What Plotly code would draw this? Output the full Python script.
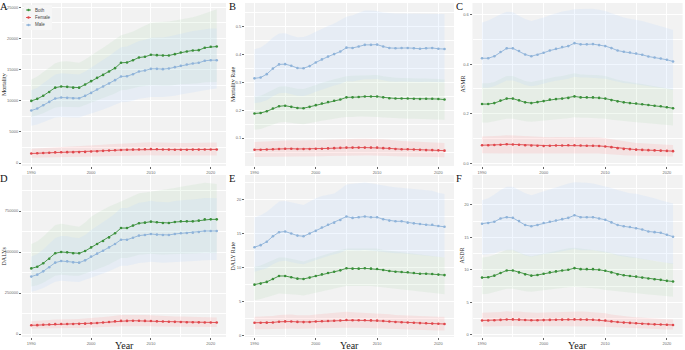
import plotly.graph_objects as go

years = list(range(1990, 2022))
x_ticks = [1990, 2000, 2010, 2020]
series_names = ["Both", "Female", "Male"]

# ---------------- Panel A: Mortality (deaths) ----------------
A_both = [9970,10300,10800,11400,12100,12280,12230,12100,12100,12600,13140,13670,14150,14690,15230,16090,16140,16510,16940,17050,17370,17320,17260,17260,17480,17750,17910,18070,18120,18500,18660,18710]
A_both_hi = [13400,13900,14600,15300,16000,16300,16350,16200,16100,16600,17300,17900,18500,19200,19900,20500,20800,21100,21600,22100,22500,22600,22650,22700,22900,23050,23200,23400,23700,24000,24400,24700]
A_both_lo = [7400,7650,8000,8400,8900,9050,9000,8950,8950,9300,9700,10050,10400,10800,11150,11700,11750,12000,12250,12350,12500,12450,12400,12400,12500,12650,12700,12800,12800,12950,13000,13000]
A_male = [8420,8740,9280,9810,10350,10510,10460,10400,10400,10780,11260,11800,12280,12760,13300,13890,13940,14260,14690,14850,15120,15120,15070,15170,15390,15600,15820,15980,16090,16410,16510,16510]
A_male_hi = [11700,12100,12800,13500,14200,14400,14350,14250,14200,14700,15300,16000,16600,17200,17900,18600,18700,19100,19600,19800,20100,20150,20150,20300,20550,20800,21000,21200,21300,21500,21600,21600]
A_male_lo = [6000,6200,6550,6900,7300,7400,7350,7300,7300,7550,7900,8250,8600,8950,9300,9750,9800,10000,10300,10450,10600,10600,10600,10650,10800,11000,11200,11400,11550,11700,11850,11950]
A_fem = [1530,1560,1600,1640,1700,1730,1740,1740,1750,1780,1840,1900,1950,2000,2040,2100,2120,2150,2180,2200,2230,2200,2170,2150,2140,2140,2140,2150,2150,2160,2170,2180]
A_fem_hi = [2300,2350,2400,2450,2550,2600,2620,2620,2630,2680,2770,2860,2940,3010,3070,3160,3190,3230,3280,3310,3350,3310,3260,3230,3220,3220,3220,3230,3230,3250,3260,3280]
A_fem_lo = [850,860,880,900,940,950,960,960,960,980,1010,1050,1070,1100,1120,1160,1170,1180,1200,1210,1230,1210,1190,1180,1180,1180,1180,1180,1180,1190,1190,1200]

# ---------------- Panel B: Mortality Rate ----------------
B_male = [0.314,0.317,0.329,0.349,0.364,0.365,0.359,0.351,0.350,0.358,0.371,0.382,0.392,0.401,0.410,0.424,0.423,0.428,0.434,0.434,0.435,0.428,0.423,0.422,0.423,0.423,0.422,0.420,0.422,0.423,0.420,0.419]
B_male_hi = [0.418,0.425,0.440,0.460,0.475,0.476,0.468,0.461,0.462,0.470,0.481,0.492,0.502,0.511,0.522,0.535,0.540,0.548,0.557,0.557,0.555,0.550,0.547,0.546,0.546,0.546,0.545,0.545,0.545,0.546,0.545,0.545]
B_male_lo = [0.225,0.228,0.236,0.250,0.261,0.262,0.258,0.252,0.251,0.257,0.266,0.274,0.281,0.288,0.294,0.304,0.303,0.307,0.311,0.311,0.312,0.307,0.303,0.302,0.303,0.303,0.302,0.301,0.302,0.303,0.301,0.300]
B_both = [0.188,0.190,0.196,0.206,0.214,0.216,0.212,0.208,0.207,0.212,0.218,0.224,0.229,0.234,0.238,0.246,0.246,0.247,0.249,0.249,0.249,0.246,0.243,0.242,0.242,0.242,0.241,0.240,0.241,0.241,0.240,0.238]
B_both_hi = [0.248,0.252,0.262,0.274,0.284,0.286,0.282,0.277,0.276,0.282,0.290,0.298,0.305,0.311,0.316,0.322,0.323,0.324,0.326,0.326,0.326,0.322,0.318,0.316,0.315,0.315,0.314,0.313,0.313,0.313,0.312,0.310]
B_both_lo = [0.130,0.133,0.140,0.149,0.156,0.158,0.155,0.151,0.150,0.154,0.158,0.162,0.166,0.170,0.173,0.176,0.176,0.177,0.177,0.177,0.176,0.174,0.171,0.170,0.170,0.169,0.169,0.168,0.168,0.168,0.167,0.166]
B_fem = [0.058,0.058,0.059,0.060,0.061,0.062,0.062,0.061,0.061,0.061,0.062,0.062,0.063,0.064,0.065,0.066,0.066,0.066,0.066,0.066,0.066,0.064,0.063,0.061,0.060,0.060,0.059,0.058,0.057,0.057,0.056,0.055]
B_fem_hi = [0.086,0.087,0.088,0.089,0.091,0.092,0.092,0.091,0.091,0.091,0.092,0.093,0.094,0.095,0.096,0.098,0.098,0.098,0.098,0.098,0.098,0.096,0.094,0.091,0.090,0.089,0.088,0.087,0.086,0.085,0.084,0.082]
B_fem_lo = [0.032,0.032,0.033,0.033,0.034,0.034,0.034,0.034,0.034,0.034,0.035,0.035,0.036,0.036,0.037,0.038,0.038,0.038,0.038,0.038,0.038,0.037,0.036,0.035,0.034,0.034,0.033,0.033,0.032,0.032,0.032,0.031]

# ---------------- Panel C: ASMR ----------------
C_male = [0.424,0.424,0.432,0.449,0.464,0.464,0.453,0.439,0.432,0.438,0.446,0.455,0.462,0.469,0.473,0.485,0.480,0.480,0.481,0.477,0.473,0.465,0.455,0.450,0.447,0.443,0.438,0.431,0.427,0.423,0.418,0.411]
C_male_hi = [0.568,0.576,0.588,0.602,0.612,0.610,0.596,0.582,0.574,0.580,0.588,0.598,0.606,0.613,0.617,0.622,0.623,0.624,0.624,0.620,0.615,0.606,0.596,0.588,0.583,0.579,0.574,0.567,0.561,0.554,0.546,0.538]
C_male_lo = [0.305,0.305,0.311,0.323,0.334,0.334,0.326,0.316,0.311,0.315,0.321,0.328,0.333,0.338,0.341,0.349,0.346,0.346,0.346,0.343,0.341,0.335,0.328,0.324,0.322,0.319,0.315,0.310,0.307,0.305,0.301,0.296]
C_both = [0.239,0.239,0.243,0.253,0.261,0.261,0.254,0.246,0.243,0.247,0.251,0.257,0.259,0.261,0.264,0.270,0.266,0.266,0.266,0.264,0.261,0.255,0.250,0.246,0.243,0.241,0.238,0.235,0.232,0.230,0.226,0.222]
C_both_hi = [0.323,0.323,0.328,0.341,0.352,0.352,0.343,0.332,0.328,0.333,0.339,0.346,0.349,0.352,0.356,0.363,0.358,0.358,0.358,0.355,0.352,0.344,0.337,0.332,0.328,0.325,0.321,0.317,0.313,0.310,0.305,0.299]
C_both_lo = [0.165,0.165,0.168,0.175,0.180,0.180,0.175,0.170,0.168,0.170,0.173,0.177,0.179,0.180,0.182,0.186,0.184,0.184,0.184,0.182,0.180,0.176,0.172,0.170,0.168,0.166,0.164,0.162,0.160,0.158,0.155,0.152]
C_fem = [0.073,0.073,0.074,0.075,0.077,0.076,0.075,0.073,0.072,0.071,0.070,0.071,0.072,0.072,0.073,0.073,0.072,0.071,0.071,0.070,0.068,0.065,0.061,0.058,0.057,0.055,0.054,0.053,0.052,0.051,0.050,0.049]
C_fem_hi = [0.108,0.108,0.109,0.111,0.113,0.112,0.111,0.108,0.107,0.105,0.104,0.105,0.106,0.106,0.107,0.107,0.106,0.105,0.105,0.104,0.101,0.097,0.091,0.087,0.085,0.082,0.081,0.079,0.078,0.076,0.075,0.074]
C_fem_lo = [0.040,0.040,0.041,0.041,0.042,0.042,0.041,0.040,0.040,0.039,0.039,0.039,0.040,0.040,0.040,0.040,0.040,0.039,0.039,0.039,0.038,0.036,0.034,0.032,0.031,0.030,0.030,0.029,0.029,0.028,0.028,0.027]

# ---------------- Panel D: DALYs ----------------
D_both = [400000,410000,431000,459000,492000,500000,498000,492000,492000,506000,528000,549000,567000,589000,614000,646000,646000,661000,675000,679000,685000,681000,677000,677000,683000,687000,687000,687000,691000,699000,699000,699000]
D_both_hi = [549000,565000,595000,632000,665000,672000,665000,657000,654000,680000,715000,738000,758000,778000,792000,807000,825000,842000,858000,863000,868000,872000,878000,884000,890000,898000,905000,912000,918000,923000,919000,915000]
D_both_lo = [290000,297000,312000,332000,355000,361000,359000,355000,355000,365000,380000,395000,408000,424000,441000,463000,463000,473000,483000,486000,490000,487000,484000,484000,487000,490000,490000,490000,492000,495000,494000,492000]
D_male = [350000,362000,382000,407000,435000,445000,443000,437000,435000,449000,472000,490000,508000,528000,549000,575000,575000,587000,600000,604000,610000,606000,604000,604000,610000,614000,616000,618000,622000,628000,628000,628000]
D_male_hi = [472000,488000,515000,548000,585000,598000,596000,588000,585000,603000,634000,658000,681000,707000,734000,768000,768000,783000,800000,805000,812000,807000,804000,804000,811000,816000,818000,820000,824000,830000,829000,827000]
D_male_lo = [258000,266000,280000,298000,318000,325000,323000,319000,317000,327000,343000,356000,369000,383000,398000,416000,416000,424000,433000,436000,440000,437000,435000,435000,439000,442000,443000,444000,446000,450000,451000,451000]
D_fem = [53000,54000,56000,58000,60000,61000,61000,61000,62000,63000,65000,67000,70000,73000,77000,80000,80000,81000,81000,80000,79000,77000,76000,75000,74000,73000,72000,72000,71000,70000,70000,70000]
D_fem_hi = [78000,79000,82000,85000,88000,90000,90000,90000,91000,93000,96000,99000,103000,107000,112000,116000,116000,117000,117000,116000,115000,112000,110000,109000,107000,106000,105000,104000,103000,102000,101000,101000]
D_fem_lo = [32000,33000,34000,35000,36000,37000,37000,37000,37000,38000,39000,40000,42000,44000,46000,48000,48000,48000,48000,48000,47000,46000,45000,45000,44000,44000,43000,43000,42000,42000,42000,42000]

# ---------------- Panel E: DALY Rate ----------------
E_male = [13.0,13.3,13.8,14.6,15.2,15.3,15.0,14.7,14.6,15.0,15.4,15.9,16.3,16.6,17.0,17.5,17.3,17.4,17.5,17.4,17.4,17.1,16.9,16.8,16.8,16.6,16.5,16.4,16.3,16.3,16.1,16.0]
E_male_hi = [17.4,17.7,18.2,19.0,19.7,19.8,19.6,19.3,19.2,19.7,20.2,20.5,20.7,20.9,21.5,22.2,22.3,22.4,22.5,22.4,22.2,22.0,21.9,21.8,21.7,21.6,21.5,21.4,21.3,21.3,21.0,20.8]
E_male_lo = [9.4,9.6,9.9,10.5,10.9,11.0,10.8,10.6,10.5,10.8,11.1,11.4,11.7,12.0,12.2,12.6,12.5,12.5,12.6,12.5,12.5,12.3,12.2,12.1,12.1,12.0,11.9,11.8,11.7,11.7,11.6,11.5]
E_both = [7.50,7.65,7.90,8.33,8.77,8.77,8.58,8.38,8.33,8.53,8.77,9.00,9.20,9.40,9.60,9.90,9.85,9.85,9.90,9.85,9.80,9.66,9.50,9.40,9.36,9.31,9.20,9.10,9.10,9.07,8.97,8.90]
E_both_hi = [10.1,10.3,10.7,11.1,11.5,11.5,11.3,11.0,10.9,11.2,11.5,11.8,12.1,12.4,12.6,12.8,12.8,12.8,12.9,12.8,12.8,12.6,12.5,12.4,12.3,12.2,12.1,12.0,11.9,11.8,11.6,11.5]
E_both_lo = [5.2,5.4,5.6,5.9,6.2,6.2,6.1,6.0,5.9,6.0,6.2,6.5,6.7,6.9,7.1,7.3,7.3,7.3,7.3,7.3,7.2,7.1,7.0,6.9,6.9,6.8,6.7,6.6,6.5,6.4,6.2,6.1]
E_fem = [1.90,1.90,1.92,1.95,2.05,2.10,2.08,2.03,2.00,2.02,2.08,2.12,2.16,2.20,2.24,2.30,2.28,2.26,2.26,2.25,2.22,2.15,2.08,2.02,1.98,1.95,1.90,1.85,1.82,1.78,1.75,1.72]
E_fem_hi = [2.80,2.80,2.85,2.90,3.05,3.10,3.10,3.00,2.95,3.00,3.10,3.20,3.30,3.35,3.40,3.50,3.45,3.40,3.40,3.40,3.35,3.25,3.15,3.05,3.00,2.95,2.90,2.85,2.85,2.80,2.80,2.80]
E_fem_lo = [0.93,0.93,0.95,0.97,1.02,1.05,1.04,1.01,1.00,1.01,1.04,1.07,1.10,1.13,1.16,1.20,1.18,1.16,1.15,1.14,1.12,1.07,1.02,0.98,0.95,0.92,0.88,0.85,0.82,0.79,0.77,0.75]

# ---------------- Panel F: ASDR ----------------
F_male = [17.1,17.2,17.4,17.9,18.1,18.0,17.5,16.9,16.7,16.9,17.2,17.4,17.6,17.8,18.0,18.4,18.1,18.1,18.1,17.9,17.7,17.3,16.9,16.7,16.6,16.4,16.2,15.9,15.8,15.7,15.4,15.1]
F_male_hi = [20.7,21.0,21.6,22.3,22.8,22.8,22.3,21.8,21.5,21.8,22.2,22.5,22.8,23.1,23.3,23.5,23.5,23.4,23.3,23.1,22.9,22.6,22.3,22.0,21.8,21.7,21.5,21.3,21.0,20.7,20.5,20.2]
F_male_lo = [12.3,12.4,12.5,12.9,13.0,13.0,12.6,12.2,12.0,12.2,12.4,12.5,12.7,12.8,13.0,13.2,13.0,13.0,13.0,12.9,12.7,12.5,12.2,12.0,11.9,11.8,11.7,11.5,11.4,11.3,11.1,10.9]
F_both = [8.80,8.85,9.10,9.50,9.90,9.90,9.60,9.30,9.10,9.20,9.40,9.60,9.75,9.90,10.00,10.25,10.10,10.10,10.10,10.00,9.85,9.60,9.30,9.15,9.05,8.95,8.80,8.65,8.55,8.45,8.30,8.20]
F_both_hi = [11.9,12.0,12.3,12.7,13.1,13.1,12.7,12.3,12.1,12.3,12.5,12.8,13.0,13.2,13.3,13.4,13.3,13.2,13.1,13.0,12.8,12.6,12.3,12.2,12.1,11.9,11.7,11.5,11.4,11.2,11.1,11.0]
F_both_lo = [6.25,6.30,6.50,6.80,7.10,7.10,6.90,6.70,6.60,6.70,6.80,7.00,7.10,7.20,7.30,7.40,7.30,7.30,7.20,7.10,6.90,6.80,6.60,6.50,6.45,6.40,6.30,6.20,6.10,6.00,5.90,5.85]
F_fem = [2.20,2.20,2.22,2.28,2.35,2.36,2.32,2.27,2.23,2.22,2.25,2.28,2.30,2.32,2.34,2.36,2.34,2.32,2.30,2.25,2.18,2.05,1.95,1.87,1.82,1.76,1.70,1.65,1.60,1.57,1.53,1.50]
F_fem_hi = [3.40,3.40,3.42,3.50,3.60,3.62,3.56,3.48,3.42,3.40,3.44,3.48,3.52,3.55,3.58,3.60,3.57,3.54,3.50,3.42,3.32,3.12,2.98,2.86,2.78,2.70,2.62,2.55,2.48,2.43,2.39,2.35]
F_fem_lo = [1.25,1.25,1.26,1.29,1.33,1.34,1.31,1.28,1.26,1.25,1.27,1.29,1.30,1.31,1.32,1.33,1.32,1.31,1.30,1.27,1.22,1.14,1.08,1.03,1.00,0.97,0.93,0.90,0.87,0.85,0.82,0.80]

panel_letters = ["A", "B", "C", "D", "E", "F"]
panel_ytitles = ["Mortality", "Mortality Rate", "ASMR", "DALYs", "DALY Rate", "ASDR"]
panel_yticks = [
    [0, 5000, 10000, 15000, 20000, 25000],
    [0.1, 0.2, 0.3, 0.4, 0.5],
    [0.0, 0.2, 0.4, 0.6],
    [0, 250000, 500000, 750000],
    [0, 5, 10, 15, 20],
    [0, 5, 10, 15, 20],
]
panel_data = [
    {"Both": (A_both, A_both_lo, A_both_hi), "Female": (A_fem, A_fem_lo, A_fem_hi), "Male": (A_male, A_male_lo, A_male_hi)},
    {"Both": (B_both, B_both_lo, B_both_hi), "Female": (B_fem, B_fem_lo, B_fem_hi), "Male": (B_male, B_male_lo, B_male_hi)},
    {"Both": (C_both, C_both_lo, C_both_hi), "Female": (C_fem, C_fem_lo, C_fem_hi), "Male": (C_male, C_male_lo, C_male_hi)},
    {"Both": (D_both, D_both_lo, D_both_hi), "Female": (D_fem, D_fem_lo, D_fem_hi), "Male": (D_male, D_male_lo, D_male_hi)},
    {"Both": (E_both, E_both_lo, E_both_hi), "Female": (E_fem, E_fem_lo, E_fem_hi), "Male": (E_male, E_male_lo, E_male_hi)},
    {"Both": (F_both, F_both_lo, F_both_hi), "Female": (F_fem, F_fem_lo, F_fem_hi), "Male": (F_male, F_male_lo, F_male_hi)},
]

# ---------------- styling / layout ----------------
W, H = 685, 350
BG = "#F2F2F2"
LINE = {"Both": "#3a8f3a", "Female": "#e0474c", "Male": "#8fb3d9"}
FILL = {"Both": "rgba(160,210,160,0.14)", "Female": "rgba(255,140,140,0.17)", "Male": "rgba(185,215,255,0.20)"}
SERIF = "Liberation Serif, Times New Roman, serif"
SANS = "Liberation Sans, Arial, sans-serif"

y_ranges = [[-480, 25690], [0.0, 0.584], [-0.011, 0.647], [-18300, 969500], [-0.19, 23.6], [-0.35, 24.6]]
y_fmt = ["d", ".1f", ".1f", "d", "d", "d"]
y_minor = [(0, 2500), (0.05, 0.1), (0.1, 0.2), (125000, 250000), (2.5, 5), (2.5, 5)]
col_px = [(22, 226), (245, 454), (472.5, 682.6)]
row_px = [(3, 166), (175, 337)]
letter_x = [-1, 227.5, 454.5, -1, 227.5, 454.5]
title_x = [3.5, 232.5, 462, 3.5, 232.5, 461.5]

fig = go.Figure()
layout = {}
annotations = []
shapes = []

for i in range(6):
    r, c = divmod(i, 3)
    ax = "" if i == 0 else str(i + 1)
    x0, x1 = col_px[c]
    y0, y1 = row_px[r]
    data = panel_data[i]
    for name in series_names:
        m, lo, hi = data[name]
        fig.add_trace(go.Scatter(
            x=years + years[::-1], y=hi + lo[::-1], fill="toself", fillcolor=FILL[name],
            line=dict(width=0), mode="lines", xaxis="x" + ax, yaxis="y" + ax,
            showlegend=False, hoverinfo="skip"))
    for name in series_names:
        m, lo, hi = data[name]
        fig.add_trace(go.Scatter(
            x=years, y=m, mode="lines+markers", name=name,
            line=dict(color=LINE[name], width=0.9),
            marker=dict(size=2.6, color=LINE[name]),
            xaxis="x" + ax, yaxis="y" + ax, showlegend=False))

    common = dict(showgrid=True, gridcolor="white", gridwidth=0.9, zeroline=False, showline=False,
                  ticks="outside", ticklen=2, tickwidth=0.6, tickcolor="#666",
                  tickfont=dict(family=SANS, size=4, color="#6a6a6a"))
    layout["xaxis" + ax] = dict(
        domain=[x0 / W, x1 / W], range=[1988.45, 2022.55], anchor="y" + ax,
        tickvals=x_ticks, tickformat="d",
        minor=dict(tick0=1990, dtick=5, showgrid=True, gridcolor="white", gridwidth=0.5, ticks=""),
        **common)
    mt0, mdt = y_minor[i]
    layout["yaxis" + ax] = dict(
        domain=[1 - y1 / H, 1 - y0 / H], range=y_ranges[i], anchor="x" + ax,
        tickvals=panel_yticks[i], tickformat=y_fmt[i],
        minor=dict(tick0=mt0, dtick=mdt, showgrid=True, gridcolor="white", gridwidth=0.5, ticks=""),
        **common)

    # panel letter
    annotations.append(dict(text=panel_letters[i], x=letter_x[i] / W, y=1 - (y0 - 3.5) / H,
                            xref="paper", yref="paper", xanchor="left", yanchor="top",
                            showarrow=False, borderpad=0,
                            font=dict(family=SERIF, size=10.5, color="#111")))
    # y-axis title
    annotations.append(dict(text=panel_ytitles[i], x=title_x[i] / W, y=1 - ((y0 + y1) / 2) / H,
                            xref="paper", yref="paper", xanchor="center", yanchor="middle",
                            textangle=-90, showarrow=False,
                            font=dict(family=SERIF, size=6, color="#222")))
    if r == 1:
        annotations.append(dict(text="Year", x=((x0 + x1) / 2) / W, y=1 - 337.5 / H,
                                xref="paper", yref="paper", xanchor="center", yanchor="top",
                                showarrow=False, font=dict(family=SERIF, size=10, color="#222")))

# manual legend inside panel A
leg_y = [10, 17.5, 25]
shapes.append(dict(type="rect", xref="paper", yref="paper", x0=24 / W, x1=52 / W,
                   y0=1 - 30 / H, y1=1 - 5 / H, fillcolor="#F6F6F6", line=dict(width=0), layer="above"))
for name, ly in zip(series_names, leg_y):
    shapes.append(dict(type="line", xref="paper", yref="paper", x0=26 / W, x1=31 / W,
                       y0=1 - ly / H, y1=1 - ly / H, line=dict(color=LINE[name], width=0.9), layer="above"))
    shapes.append(dict(type="circle", xref="paper", yref="paper", x0=27.3 / W, x1=29.7 / W,
                       y0=1 - (ly + 1.2) / H, y1=1 - (ly - 1.2) / H,
                       fillcolor=LINE[name], line=dict(width=0), layer="above"))
    annotations.append(dict(text=name, x=33 / W, y=1 - ly / H, xref="paper", yref="paper",
                            xanchor="left", yanchor="middle", showarrow=False,
                            font=dict(family=SANS, size=4.5, color="#444")))

fig.update_layout(
    width=W, height=H, margin=dict(l=0, r=0, t=0, b=0),
    paper_bgcolor="white", plot_bgcolor=BG, showlegend=False,
    annotations=annotations, shapes=shapes, **layout)

fig.write_html("out.html")
